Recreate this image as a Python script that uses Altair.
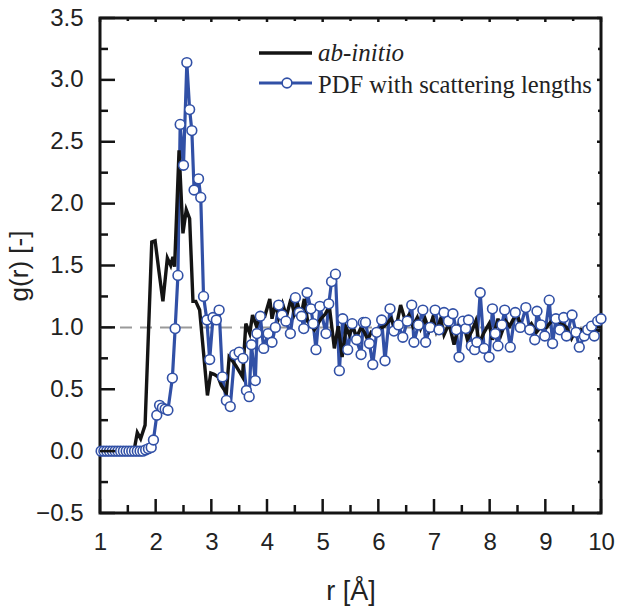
import altair as alt
import pandas as pd

# ---------------- data ----------------
ab_r = [1.00, 1.20, 1.40, 1.61, 1.67, 1.73, 1.81, 1.93, 1.99, 2.06, 2.13, 2.21, 2.27, 2.31, 2.34,
        2.42, 2.49, 2.55, 2.61, 2.67, 2.72, 2.79, 2.93, 2.99, 3.05, 3.12, 3.18, 3.27, 3.32, 3.38,
        3.44, 3.56, 3.62, 3.69, 3.74, 3.81, 3.87, 3.96, 4.05, 4.09, 4.15, 4.21, 4.28, 4.35, 4.43,
        4.49, 4.55, 4.61, 4.67, 4.73, 4.85, 4.97, 5.05, 5.12, 5.21, 5.28, 5.35, 5.42, 5.48, 5.54,
        5.61, 5.69, 5.75, 5.81, 5.87, 5.95, 6.02, 6.11, 6.17, 6.23, 6.31, 6.40, 6.48, 6.55, 6.62,
        6.70, 6.76, 6.84, 6.91, 6.98, 7.04, 7.12, 7.18, 7.27, 7.36, 7.45, 7.54, 7.60, 7.69, 7.75,
        7.81, 7.90, 7.99, 8.05, 8.15, 8.21, 8.29, 8.36, 8.43, 8.49, 8.57, 8.66, 8.75, 8.84, 8.93,
        9.02, 9.11, 9.20, 9.29, 9.38, 9.47, 9.56, 9.65, 9.73, 9.83, 9.92, 10.00]
ab_g = [0.00, 0.00, 0.00, 0.00, 0.15, 0.10, 0.21, 1.69, 1.70, 1.45, 1.21, 1.56, 1.50, 1.57, 1.49,
        2.43, 1.76, 1.95, 1.88, 1.21, 1.21, 1.14, 0.45, 0.63, 0.62, 0.60, 0.53, 0.47, 0.76, 0.73,
        0.69, 0.60, 1.03, 0.95, 1.10, 1.01, 1.09, 1.09, 1.23, 1.07, 1.19, 1.08, 1.19, 1.09, 1.23,
        1.11, 1.19, 1.09, 1.23, 1.05, 0.98, 1.07, 1.11, 1.17, 0.83, 1.01, 0.76, 1.00, 0.94, 1.01,
        0.92, 1.00, 0.96, 0.90, 0.96, 0.94, 0.99, 1.01, 1.04, 1.07, 0.98, 1.18, 1.06, 1.10, 1.01,
        1.08, 0.99, 1.07, 0.98, 1.08, 0.97, 1.07, 0.94, 1.03, 0.86, 1.03, 1.01, 0.90, 0.98, 1.05,
        0.87, 0.96, 1.03, 0.90, 1.07, 0.95, 1.05, 1.01, 1.07, 1.11, 1.00, 0.98, 1.03, 0.96, 1.01,
        1.00, 1.05, 1.05, 1.03, 1.00, 0.91, 0.99, 0.98, 0.94, 0.99, 0.97, 0.98]

pdf_r = [1.02, 1.07, 1.12, 1.17, 1.22, 1.27, 1.32, 1.37, 1.42, 1.47, 1.52, 1.57, 1.62, 1.67, 1.72,
         1.77, 1.82, 1.87, 1.92, 1.96, 2.02, 2.07, 2.12, 2.17, 2.22, 2.30, 2.35, 2.40, 2.44, 2.50,
         2.56, 2.61, 2.65, 2.69, 2.77, 2.81, 2.86, 2.92, 2.97, 3.03, 3.09, 3.14, 3.20, 3.27, 3.34,
         3.42, 3.50, 3.57, 3.63, 3.68, 3.72, 3.79, 3.82, 3.88, 3.94, 4.02, 4.09, 4.15, 4.21, 4.27,
         4.34, 4.42, 4.51, 4.58, 4.62, 4.66, 4.72, 4.79, 4.83, 4.88, 4.95, 5.06, 5.11, 5.16, 5.23,
         5.30, 5.36, 5.45, 5.53, 5.61, 5.69, 5.73, 5.77, 5.84, 5.90, 5.97, 6.06, 6.12, 6.21, 6.28,
         6.36, 6.44, 6.52, 6.60, 6.64, 6.72, 6.80, 6.85, 6.93, 7.02, 7.09, 7.18, 7.26, 7.34, 7.40,
         7.45, 7.52, 7.57, 7.62, 7.67, 7.73, 7.77, 7.83, 7.90, 7.99, 8.05, 8.10, 8.15, 8.22, 8.27,
         8.37, 8.46, 8.55, 8.65, 8.72, 8.81, 8.85, 8.92, 8.99, 9.07, 9.13, 9.19, 9.26, 9.33, 9.38,
         9.48, 9.55, 9.61, 9.70, 9.76, 9.83, 9.88, 9.94, 10.00]
pdf_g = [0.00, 0.00, 0.00, 0.00, 0.00, 0.00, 0.00, 0.00, 0.00, 0.00, 0.00, 0.00, 0.00, 0.00, 0.00,
         0.00, 0.01, 0.02, 0.03, 0.09, 0.29, 0.37, 0.35, 0.34, 0.33, 0.59, 0.99, 1.42, 2.64, 2.31,
         3.14, 2.76, 2.59, 2.11, 2.20, 2.05, 1.25, 1.06, 0.74, 1.08, 1.06, 1.14, 0.60, 0.41, 0.36,
         0.78, 0.80, 0.75, 0.49, 0.44, 0.86, 0.57, 0.95, 1.09, 0.83, 0.95, 0.88, 1.00, 1.18, 1.10,
         1.05, 0.95, 1.24, 1.12, 1.09, 0.99, 1.28, 1.15, 1.03, 0.82, 1.17, 0.95, 1.19, 1.37, 1.43,
         0.65, 1.07, 0.82, 1.03, 0.90, 0.78, 1.04, 1.04, 0.87, 0.70, 0.96, 1.06, 0.73, 1.15, 0.97,
         1.02, 0.92, 1.05, 1.18, 0.88, 1.02, 1.14, 0.88, 1.00, 1.14, 0.98, 1.12, 1.05, 1.11, 0.98,
         0.76, 1.05, 0.99, 1.06, 0.85, 0.82, 0.88, 1.28, 0.83, 0.76, 1.15, 0.95, 0.85, 1.02, 1.14,
         0.84, 1.12, 1.00, 1.16, 0.98, 0.90, 1.13, 1.02, 0.93, 1.22, 0.87, 1.07, 0.98, 1.08, 0.93,
         1.10, 0.96, 0.84, 0.93, 0.98, 1.01, 0.93, 1.05, 1.07]

x_labels = [1, 2, 3, 4, 5, 6, 7, 8, 9, 10]
x_minor = [1.5, 2.5, 3.5, 4.5, 5.5, 6.5, 7.5, 8.5, 9.5]
y_labels = [-0.5, 0.0, 0.5, 1.0, 1.5, 2.0, 2.5, 3.0, 3.5]
y_minor = [-0.25, 0.25, 0.75, 1.25, 1.75, 2.25, 2.75, 3.25]
reference_level = [1.0]
series_names = ["ab-initio", "PDF with scattering lengths"]

# ---------------- styling ----------------
W, H = 501, 495
BLUE = "#3150a6"
BLACK = "#141414"
SANS = "Liberation Sans"
SERIF = "Liberation Serif"

ab = pd.DataFrame({"r": ab_r, "g": ab_g})
pdf = pd.DataFrame({"r": pdf_r, "g": pdf_g})

xs = alt.Scale(domain=[1, 10], nice=False, zero=False)
ys = alt.Scale(domain=[-0.5, 3.5], nice=False, zero=False)

x_axis = alt.Axis(values=x_labels, title="r [Å]", ticks=False, domain=False, grid=False,
                  labelFont=SANS, labelFontSize=24, labelColor="#222", labelPadding=17,
                  labelFlush=False, labelOverlap=False,
                  titleFont=SANS, titleFontSize=27, titleFontWeight="normal", titleColor="#222",
                  titlePadding=24, format="d")
y_axis = alt.Axis(values=y_labels, title="g(r) [-]", ticks=False, domain=False, grid=False,
                  labelFont=SANS, labelFontSize=24, labelColor="#222", labelPadding=17,
                  labelFlush=False, labelOverlap=False,
                  titleFont=SANS, titleFontSize=26, titleFontWeight="normal", titleColor="#222",
                  titlePadding=3, format=".1f")


def X(field):
    return alt.X(field, scale=xs, axis=x_axis)


def Y(field):
    return alt.Y(field, scale=ys, axis=y_axis)


ref = alt.Chart(pd.DataFrame({"r": [1, 10], "g": reference_level * 2})).mark_line(
    color="#9a9a9a", strokeWidth=2, strokeDash=[12, 8]
).encode(x=X("r:Q"), y=Y("g:Q"))

blue_line = alt.Chart(pdf).mark_line(color=BLUE, strokeWidth=3.2).encode(x=X("r:Q"), y=Y("g:Q"))

black_line = alt.Chart(ab).mark_line(color=BLACK, strokeWidth=3.4).encode(x=X("r:Q"), y=Y("g:Q"))

blue_pts = alt.Chart(pdf).mark_point(shape="circle", filled=True, fill="white", stroke=BLUE,
                                     strokeWidth=1.6, size=95, opacity=1).encode(
    x=X("r:Q"), y=Y("g:Q"))


# inward ticks
def yticks(vals, x0, x1):
    return alt.Chart(pd.DataFrame({"g": vals})).mark_rule(color=BLACK, strokeWidth=2.5).encode(
        y=Y("g:Q"), x=alt.value(x0), x2=alt.value(x1))


def xticks(vals, y0, y1):
    return alt.Chart(pd.DataFrame({"r": vals})).mark_rule(color=BLACK, strokeWidth=2.5).encode(
        x=X("r:Q"), y=alt.value(y0), y2=alt.value(y1))


ticks = [
    yticks(y_labels, 0, 15), yticks(y_minor, 0, 8),
    yticks(y_labels, W, W - 4), yticks(y_minor, W, W - 3),
    xticks(x_labels, H, H - 14), xticks(x_minor, H, H - 8),
    xticks(x_labels, 0, 4), xticks(x_minor, 0, 3),
]

# legend
leg_black = alt.Chart(pd.DataFrame({"s": [series_names[0]]})).mark_rule(
    color=BLACK, strokeWidth=3.4).encode(x=alt.value(159), x2=alt.value(212), y=alt.value(35))
leg_blue = alt.Chart(pd.DataFrame({"s": [series_names[1]]})).mark_rule(
    color=BLUE, strokeWidth=3.2).encode(x=alt.value(159), x2=alt.value(212), y=alt.value(65))
leg_pt = alt.Chart(pd.DataFrame({"s": [series_names[1]]})).mark_point(
    shape="circle", filled=True, fill="white", stroke=BLUE, strokeWidth=1.6, size=95, opacity=1
).encode(x=alt.value(187), y=alt.value(65))
leg_t1 = alt.Chart(pd.DataFrame({"s": [series_names[0]]})).mark_text(
    font=SERIF, fontSize=25, fontStyle="italic", align="left", baseline="alphabetic", color="#222"
).encode(text="s:N", x=alt.value(218), y=alt.value(43))
leg_t2 = alt.Chart(pd.DataFrame({"s": [series_names[1]]})).mark_text(
    font=SERIF, fontSize=24.6, align="left", baseline="alphabetic", color="#222"
).encode(text="s:N", x=alt.value(218), y=alt.value(75))

chart = alt.layer(
    ref, blue_line, black_line, blue_pts, *ticks, leg_black, leg_blue, leg_pt, leg_t1, leg_t2
).properties(
    width=W, height=H,
    autosize=alt.AutoSizeParams(type="none"),
    padding={"left": 100, "top": 18, "right": 16, "bottom": 99},
    background="white",
).configure_view(stroke=BLACK, strokeWidth=3)

chart.save("out.html", embed_options={"renderer": "svg", "actions": False})
